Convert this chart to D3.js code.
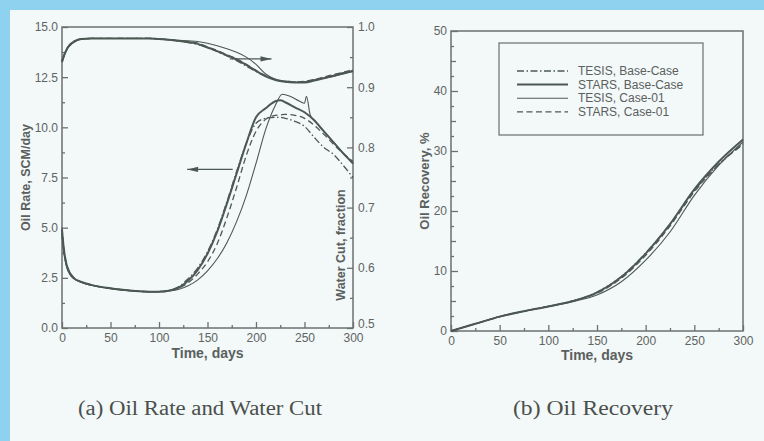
<!DOCTYPE html>
<html>
<head>
<meta charset="utf-8">
<script src="https://cdn.jsdelivr.net/npm/d3@7/dist/d3.min.js"></script>
<style>
  html, body { margin: 0; padding: 0; background: #f3f8f8; }
  svg { display: block; }
  .tick text { font-family: "Liberation Sans", Arial, sans-serif; font-size: 12px; fill: #5e6462; }
  .tick line { stroke: #6c706e; stroke-width: 1.3; }
</style>
</head>
<body>
<svg id="fig" width="764" height="441"></svg>
<script>
// ---- Oil rate (SCM/day) vs time (days) ----
const rateDays = [0, 2, 5, 8, 12, 20, 30, 40, 50, 60, 70, 80, 90, 100, 110, 120, 130, 140, 150, 160, 170, 180, 190, 200, 210, 220, 225, 230, 240, 250, 260, 270, 280, 290, 300];
const rateStarsBase = [4.9, 3.9, 3.1, 2.75, 2.5, 2.3, 2.15, 2.05, 1.98, 1.92, 1.87, 1.83, 1.81, 1.81, 1.86, 2.0, 2.35, 2.9, 3.7, 4.8, 6.2, 7.7, 9.2, 10.5, 10.95, 11.3, 11.35, 11.25, 11.0, 10.75, 10.35, 9.8, 9.25, 8.7, 8.2];
const rateTesisBase = [4.7, 3.8, 3.05, 2.7, 2.48, 2.28, 2.14, 2.04, 1.97, 1.91, 1.86, 1.83, 1.81, 1.82, 1.87, 2.05, 2.45, 3.0, 3.8, 4.9, 6.3, 7.8, 9.2, 10.2, 10.45, 10.5, 10.5, 10.45, 10.3, 10.05, 9.5, 9.0, 8.65, 8.1, 7.5];
const rateStarsCase01 = [5.0, 3.95, 3.15, 2.78, 2.52, 2.3, 2.15, 2.05, 1.98, 1.92, 1.87, 1.83, 1.81, 1.81, 1.85, 1.98, 2.25, 2.7, 3.3, 4.2, 5.5, 7.0, 8.6, 9.8, 10.4, 10.6, 10.62, 10.65, 10.6, 10.45, 10.1, 9.65, 9.15, 8.7, 8.3];
const rateTesisCase01Days = [0, 2, 5, 8, 12, 20, 30, 40, 50, 60, 70, 80, 90, 100, 110, 120, 130, 140, 150, 160, 170, 180, 190, 200, 210, 220, 227, 235, 245, 250, 252, 256, 260, 270, 280, 290, 300];
const rateTesisCase01 = [4.6, 3.7, 3.0, 2.68, 2.46, 2.27, 2.13, 2.03, 1.96, 1.9, 1.85, 1.82, 1.8, 1.8, 1.84, 1.92, 2.1, 2.4, 2.85, 3.45, 4.25, 5.3, 6.6, 8.2, 9.9, 11.1, 11.65, 11.55, 11.3, 11.2, 11.55, 10.6, 10.35, 9.8, 9.25, 8.7, 8.2];

// ---- Water cut (fraction) vs time (days) ----
const wcDays = [0, 2, 4, 6, 10, 15, 20, 30, 50, 70, 90, 100, 110, 120, 130, 140, 150, 160, 170, 180, 190, 200, 210, 220, 230, 240, 250, 260, 270, 280, 290, 300];
const wcStarsBase = [0.942, 0.952, 0.960, 0.966, 0.973, 0.978, 0.980, 0.981, 0.981, 0.981, 0.981, 0.980, 0.979, 0.977, 0.975, 0.972, 0.966, 0.960, 0.953, 0.946, 0.937, 0.927, 0.918, 0.912, 0.909, 0.908, 0.908, 0.911, 0.915, 0.919, 0.923, 0.927];
const wcTesisBase = [0.944, 0.953, 0.961, 0.967, 0.974, 0.978, 0.980, 0.981, 0.981, 0.981, 0.981, 0.980, 0.979, 0.977, 0.974, 0.971, 0.966, 0.959, 0.952, 0.944, 0.935, 0.926, 0.918, 0.913, 0.910, 0.909, 0.909, 0.912, 0.916, 0.920, 0.924, 0.928];
const wcTesisCase01 = [0.941, 0.951, 0.959, 0.965, 0.972, 0.977, 0.980, 0.981, 0.981, 0.981, 0.981, 0.980, 0.979, 0.978, 0.977, 0.976, 0.973, 0.969, 0.964, 0.958, 0.950, 0.938, 0.922, 0.913, 0.909, 0.908, 0.909, 0.912, 0.915, 0.918, 0.922, 0.926];
const wcStarsCase01 = [0.943, 0.952, 0.960, 0.966, 0.973, 0.978, 0.980, 0.981, 0.981, 0.981, 0.981, 0.980, 0.979, 0.977, 0.975, 0.973, 0.967, 0.961, 0.954, 0.947, 0.938, 0.928, 0.919, 0.913, 0.910, 0.909, 0.910, 0.913, 0.917, 0.921, 0.925, 0.929];

// ---- Oil recovery (%) vs time (days) ----
const recDays = [0, 25, 50, 75, 100, 125, 150, 175, 200, 225, 250, 275, 300];
const recStarsBase = [0, 1.2, 2.4, 3.3, 4.1, 5.0, 6.4, 9.0, 12.9, 17.8, 23.6, 28.2, 31.9];
const recTesisBase = [0, 1.2, 2.4, 3.3, 4.1, 5.0, 6.5, 9.1, 13.0, 17.8, 23.4, 27.8, 31.2];
const recTesisCase01 = [0, 1.2, 2.4, 3.3, 4.1, 4.9, 6.0, 8.2, 11.8, 16.5, 22.6, 27.6, 31.5];
const recStarsCase01 = [0, 1.2, 2.4, 3.3, 4.1, 5.0, 6.3, 8.8, 12.6, 17.5, 23.2, 27.7, 31.1];

// ---- Legend / axis labels ----
const seriesNames = ["TESIS, Base-Case", "STARS, Base-Case", "TESIS, Case-01", "STARS, Case-01"];
const timeTicks = [0, 50, 100, 150, 200, 250, 300];
const rateTicks = [0, 2.5, 5, 7.5, 10, 12.5, 15];
const wcTicks = [0.5, 0.6, 0.7, 0.8, 0.9, 1.0];
const recTicks = [0, 10, 20, 30, 40, 50];
const captions = ["(a) Oil Rate and Water Cut", "(b) Oil Recovery"];

const ink = "#4c5853";
const frameColor = "#6c706e";
const titleColor = "#5a605e";
const styles = {
  "TESIS, Base-Case": { width: 1.3, dash: "7,2.5,1.5,2.5" },
  "STARS, Base-Case": { width: 2.0, dash: null },
  "TESIS, Case-01": { width: 1.1, dash: null },
  "STARS, Case-01": { width: 1.3, dash: "6,3.5" }
};

const svg = d3.select("#fig");

// page background: blue margin strips and off-white panel
svg.append("rect").attr("x", 0).attr("y", 0).attr("width", 764).attr("height", 441).attr("fill", "#8fd2ef");
svg.append("rect").attr("x", 10).attr("y", 10).attr("width", 754).attr("height", 431).attr("fill", "#f3f8f8");

const fontSans = "'Liberation Sans', Arial, sans-serif";
const fontSerif = "'Liberation Serif', 'Times New Roman', serif";

function drawFrame(g, x, y) {
  g.append("rect")
    .attr("x", x.range()[0]).attr("y", y.range()[1])
    .attr("width", x.range()[1] - x.range()[0])
    .attr("height", y.range()[0] - y.range()[1])
    .attr("fill", "none").attr("stroke", frameColor).attr("stroke-width", 1.5);
}

function cleanAxis(sel) {
  sel.select(".domain").remove();
  return sel;
}

function drawSeries(g, x, y, days, values, name) {
  const st = styles[name];
  const line = d3.line().x((d, i) => x(days[i])).y(d => y(d)).curve(d3.curveMonotoneX);
  g.append("path")
    .attr("d", line(values))
    .attr("fill", "none")
    .attr("stroke", ink)
    .attr("stroke-width", st.width)
    .attr("stroke-dasharray", st.dash)
    .attr("stroke-linejoin", "round");
}

function arrow(g, x1, y1, x2, y2) {
  g.append("line").attr("x1", x1).attr("y1", y1).attr("x2", x2).attr("y2", y2)
    .attr("stroke", ink).attr("stroke-width", 1.3);
  const dir = Math.sign(x2 - x1);
  const len = 11, half = 2.6;
  g.append("path")
    .attr("d", `M${x2},${y2} L${x2 - dir * len},${y2 - half} L${x2 - dir * len},${y2 + half} Z`)
    .attr("fill", ink);
}

function vTitle(g, x, y, size, text) {
  g.append("text").attr("transform", `translate(${x},${y}) rotate(-90)`)
    .attr("text-anchor", "middle").attr("font-family", fontSans).attr("font-weight", "bold")
    .attr("font-size", size).attr("fill", titleColor).text(text);
}

function hTitle(g, x, y, size, text) {
  g.append("text").attr("x", x).attr("y", y)
    .attr("text-anchor", "middle").attr("font-family", fontSans).attr("font-weight", "bold")
    .attr("font-size", size).attr("fill", titleColor).text(text);
}

// ================= Panel (a) =================
const xa = d3.scaleLinear().domain([0, 300]).range([62, 353]);
const yRate = d3.scaleLinear().domain([0, 15]).range([328, 27]);
const yWc = d3.scaleLinear().domain([0.5, 1.0]).range([328, 27]);
const ga = svg.append("g");

// minor + major ticks (inward)
cleanAxis(ga.append("g").attr("transform", `translate(0,${yRate.range()[0]})`)
  .call(d3.axisBottom(xa).tickValues(d3.range(25, 300, 50)).tickSize(-3).tickFormat("")));
cleanAxis(ga.append("g").attr("transform", `translate(0,${yRate.range()[0]})`)
  .call(d3.axisBottom(xa).tickValues(timeTicks).tickSize(-6).tickPadding(5)));
cleanAxis(ga.append("g").attr("transform", `translate(${xa.range()[0]},0)`)
  .call(d3.axisLeft(yRate).tickValues(d3.range(1.25, 15, 2.5)).tickSize(-3).tickFormat("")));
cleanAxis(ga.append("g").attr("transform", `translate(${xa.range()[0]},0)`)
  .call(d3.axisLeft(yRate).tickValues(rateTicks).tickSize(-6).tickPadding(4).tickFormat(d3.format(".1f"))));
cleanAxis(ga.append("g").attr("transform", `translate(${xa.range()[1]},0)`)
  .call(d3.axisRight(yWc).tickValues(d3.range(0.55, 1.0, 0.1)).tickSize(-3).tickFormat("")));
const wcAxis = cleanAxis(ga.append("g").attr("transform", `translate(${xa.range()[1]},0)`)
  .call(d3.axisRight(yWc).tickValues(wcTicks).tickSize(-6).tickPadding(5).tickFormat(d3.format(".1f"))));
// the bottom-right label sits a little above the corner
wcAxis.selectAll(".tick text").filter(d => d === 0.5).attr("dy", "-0.05em");

drawFrame(ga, xa, yRate);

// water cut curves
drawSeries(ga, xa, yWc, wcDays, wcTesisBase, seriesNames[0]);
drawSeries(ga, xa, yWc, wcDays, wcStarsBase, seriesNames[1]);
drawSeries(ga, xa, yWc, wcDays, wcTesisCase01, seriesNames[2]);
drawSeries(ga, xa, yWc, wcDays, wcStarsCase01, seriesNames[3]);
// oil rate curves
drawSeries(ga, xa, yRate, rateDays, rateTesisBase, seriesNames[0]);
drawSeries(ga, xa, yRate, rateDays, rateStarsBase, seriesNames[1]);
drawSeries(ga, xa, yRate, rateTesisCase01Days, rateTesisCase01, seriesNames[2]);
drawSeries(ga, xa, yRate, rateDays, rateStarsCase01, seriesNames[3]);

// axis pointers: water cut → right axis, oil rate → left axis
arrow(ga, xa(173), yWc(0.947), xa(216), yWc(0.947));
arrow(ga, xa(176), yRate(7.9), xa(129), yRate(7.9));

hTitle(ga, (xa.range()[0] + xa.range()[1]) / 2, 358, 14, "Time, days");
vTitle(ga, 30, (yRate.range()[0] + yRate.range()[1]) / 2, 12.5, "Oil Rate, SCM/day");
vTitle(ga, 345, 245, 12.5, "Water Cut, fraction");

// ================= Panel (b) =================
const xb = d3.scaleLinear().domain([0, 300]).range([451, 743]);
const yRec = d3.scaleLinear().domain([0, 50]).range([331, 31]);
const gb = svg.append("g");

cleanAxis(gb.append("g").attr("transform", `translate(0,${yRec.range()[0]})`)
  .call(d3.axisBottom(xb).tickValues(d3.range(25, 300, 50)).tickSize(-3).tickFormat("")));
cleanAxis(gb.append("g").attr("transform", `translate(0,${yRec.range()[0]})`)
  .call(d3.axisBottom(xb).tickValues(timeTicks).tickSize(-6).tickPadding(5)));
cleanAxis(gb.append("g").attr("transform", `translate(${xb.range()[0]},0)`)
  .call(d3.axisLeft(yRec).tickValues(d3.range(2.5, 50, 5)).tickSize(-3).tickFormat("")));
cleanAxis(gb.append("g").attr("transform", `translate(${xb.range()[0]},0)`)
  .call(d3.axisLeft(yRec).tickValues(d3.range(5, 50, 10)).tickSize(-5).tickFormat("")));
cleanAxis(gb.append("g").attr("transform", `translate(${xb.range()[0]},0)`)
  .call(d3.axisLeft(yRec).tickValues(recTicks).tickSize(-7).tickPadding(4)));

drawFrame(gb, xb, yRec);

drawSeries(gb, xb, yRec, recDays, recTesisBase, seriesNames[0]);
drawSeries(gb, xb, yRec, recDays, recStarsBase, seriesNames[1]);
drawSeries(gb, xb, yRec, recDays, recTesisCase01, seriesNames[2]);
drawSeries(gb, xb, yRec, recDays, recStarsCase01, seriesNames[3]);

hTitle(gb, (xb.range()[0] + xb.range()[1]) / 2, 360, 14, "Time, days");
vTitle(gb, 429, (yRec.range()[0] + yRec.range()[1]) / 2, 13, "Oil Recovery, %");

// legend
const leg = gb.append("g");
leg.append("rect").attr("x", 499).attr("y", 43).attr("width", 204).attr("height", 92)
  .attr("fill", "none").attr("stroke", frameColor).attr("stroke-width", 1.2);
seriesNames.forEach((name, i) => {
  const yy = 71 + i * 13.6;
  const st = styles[name];
  leg.append("line").attr("x1", 517).attr("x2", 568).attr("y1", yy).attr("y2", yy)
    .attr("stroke", ink).attr("stroke-width", st.width).attr("stroke-dasharray", st.dash);
  leg.append("text").attr("x", 578).attr("y", yy + 4)
    .attr("font-family", fontSans).attr("font-size", 12).attr("fill", titleColor).text(name);
});

// captions
svg.append("text").attr("x", 78).attr("y", 415)
  .attr("font-family", fontSerif).attr("font-size", 20)
  .attr("textLength", 244).attr("lengthAdjust", "spacingAndGlyphs")
  .attr("fill", "#4a4f4d").text(captions[0]);
svg.append("text").attr("x", 513).attr("y", 415)
  .attr("font-family", fontSerif).attr("font-size", 20)
  .attr("textLength", 160).attr("lengthAdjust", "spacingAndGlyphs")
  .attr("fill", "#4a4f4d").text(captions[1]);
</script>
</body>
</html>
